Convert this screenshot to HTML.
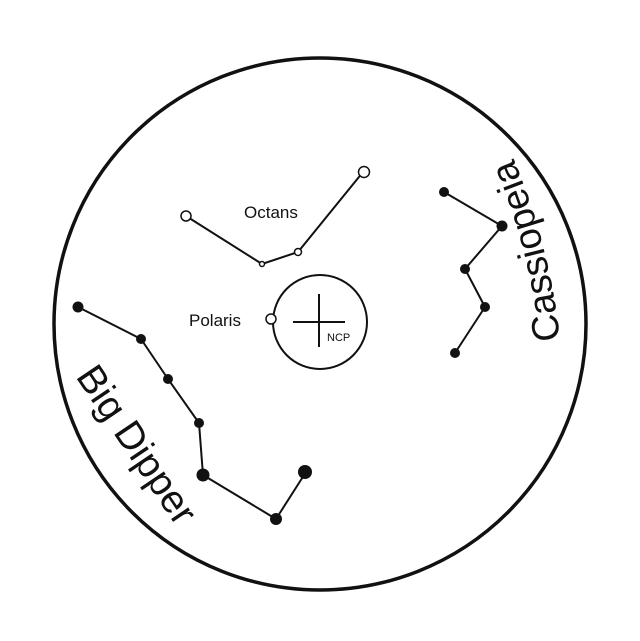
<!DOCTYPE html>
<html><head><meta charset="utf-8"><style>
html,body{margin:0;padding:0;background:#fff;}
svg{display:block;}
text{font-family:"Liberation Sans",Arial,sans-serif;fill:#111;}
</style></head><body>
<svg width="640" height="641" viewBox="0 0 640 641" xmlns="http://www.w3.org/2000/svg">
<defs>
<path id="cas" d="M562,360 Q552,240 505,140" fill="none"/>
</defs>
<rect width="640" height="641" fill="#fff"/>
<circle cx="320" cy="324" r="266" fill="none" stroke="#111" stroke-width="3.5"/>
<circle cx="320" cy="322" r="47" fill="none" stroke="#111" stroke-width="2"/>
<line x1="293" y1="322" x2="345" y2="322" stroke="#111" stroke-width="2"/>
<line x1="319" y1="294" x2="319" y2="347" stroke="#111" stroke-width="2"/>
<text x="327" y="341" font-size="11">NCP</text>
<text x="189" y="326" font-size="17">Polaris</text>
<circle cx="271" cy="319" r="5" fill="#fff" stroke="#111" stroke-width="1.5"/>
<text x="244" y="218" font-size="17">Octans</text>
<polyline points="186,216 262,264 298,252 363,172" fill="none" stroke="#111" stroke-width="2"/>
<circle cx="186" cy="216" r="5" fill="#fff" stroke="#111" stroke-width="1.5"/>
<circle cx="262" cy="264" r="2.5" fill="#fff" stroke="#111" stroke-width="1.5"/>
<circle cx="298" cy="252" r="3.5" fill="#fff" stroke="#111" stroke-width="1.5"/>
<circle cx="364" cy="172" r="5.5" fill="#fff" stroke="#111" stroke-width="1.5"/>
<polyline points="78,307 141,339 168,379 199,423 203,475 276,519 306,472" fill="none" stroke="#111" stroke-width="2"/>
<g fill="#111">
<circle cx="78" cy="307" r="5.5"/><circle cx="141" cy="339" r="5"/><circle cx="168" cy="379" r="5"/>
<circle cx="199" cy="423" r="5"/><circle cx="203" cy="475" r="6.5"/><circle cx="276" cy="519" r="6"/>
<circle cx="305" cy="472" r="7"/>
</g>
<polyline points="444,192 502,226 465,269 485,307 455,353" fill="none" stroke="#111" stroke-width="2"/>
<g fill="#111">
<circle cx="444" cy="192" r="5"/><circle cx="502" cy="226" r="5.5"/><circle cx="465" cy="269" r="5"/>
<circle cx="485" cy="307" r="5"/><circle cx="455" cy="353" r="5"/>
</g>
<text transform="translate(126,452) rotate(56)" text-anchor="middle" font-size="39">Big Dipper</text>
<text font-size="38" text-anchor="middle"><textPath href="#cas" startOffset="50%">Cassiopeia</textPath></text>
</svg>
</body></html>
